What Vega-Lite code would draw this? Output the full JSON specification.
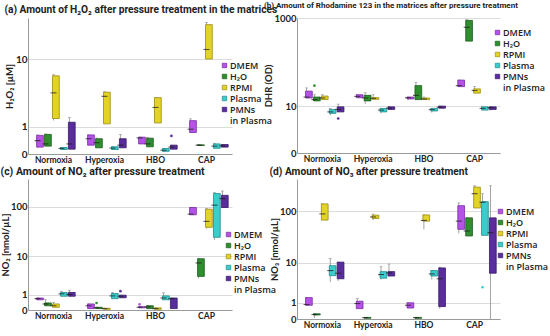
{
  "$schema": "https://vega.github.io/schema/vega-lite/v6.json",
  "padding": {"left": 0, "top": 2, "right": 0, "bottom": 2},
  "datasets": {
    "a": [
      {"cond":"Normoxia","matrix":"DMEM","lo":0.17,"q1":0.19,"med":0.40,"q3":0.60,"hi":0.62},
      {"cond":"Normoxia","matrix":"H₂O","lo":0.22,"q1":0.22,"med":0.29,"q3":0.64,"hi":0.66},
      {"cond":"Normoxia","matrix":"RPMI","lo":1.33,"q1":1.45,"med":3.68,"q3":6.2,"hi":6.4},
      {"cond":"Normoxia","matrix":"Plasma","lo":0.12,"q1":0.12,"med":0.15,"q3":0.18,"hi":0.18},
      {"cond":"Normoxia","matrix":"PMNs in Plasma","lo":0.13,"q1":0.13,"med":0.29,"q3":1.23,"hi":1.51},
      {"cond":"Hyperoxia","matrix":"DMEM","lo":0.25,"q1":0.25,"med":0.47,"q3":0.62,"hi":0.62},
      {"cond":"Hyperoxia","matrix":"H₂O","lo":0.17,"q1":0.17,"med":0.33,"q3":0.47,"hi":0.49},
      {"cond":"Hyperoxia","matrix":"RPMI","lo":1.14,"q1":1.14,"med":3.29,"q3":3.76,"hi":3.8},
      {"cond":"Hyperoxia","matrix":"Plasma","lo":0.12,"q1":0.12,"med":0.16,"q3":0.20,"hi":0.20},
      {"cond":"Hyperoxia","matrix":"PMNs in Plasma","lo":0.17,"q1":0.17,"med":0.25,"q3":0.47,"hi":0.64},
      {"cond":"HBO","matrix":"DMEM","lo":0.29,"q1":0.29,"med":0.50,"q3":0.53,"hi":0.53},
      {"cond":"HBO","matrix":"H₂O","lo":0.20,"q1":0.20,"med":0.29,"q3":0.49,"hi":0.52},
      {"cond":"HBO","matrix":"RPMI","lo":1.19,"q1":1.19,"med":2.24,"q3":3.15,"hi":3.15},
      {"cond":"HBO","matrix":"Plasma","lo":0.066,"q1":0.07,"med":0.10,"q3":0.15,"hi":0.15},
      {"cond":"HBO","matrix":"PMNs in Plasma","lo":0.13,"q1":0.13,"med":0.19,"q3":0.25,"hi":0.25},
      {"cond":"CAP","matrix":"DMEM","lo":0.72,"q1":0.72,"med":0.87,"q3":1.32,"hi":1.43},
      {"cond":"CAP","matrix":"H₂O","lo":0.24,"q1":0.24,"med":0.25,"q3":0.26,"hi":0.26},
      {"cond":"CAP","matrix":"RPMI","lo":10.0,"q1":10.0,"med":13.0,"q3":25.2,"hi":26.7},
      {"cond":"CAP","matrix":"Plasma","lo":0.155,"q1":0.155,"med":0.22,"q3":0.29,"hi":0.31},
      {"cond":"CAP","matrix":"PMNs in Plasma","lo":0.19,"q1":0.19,"med":0.23,"q3":0.27,"hi":0.27}
    ],
    "a_out": [
      {"cond":"HBO","matrix":"PMNs in Plasma","v":0.58}
    ],
    "b": [
      {"cond":"Normoxia","matrix":"DMEM","lo":15.7,"q1":15.7,"med":16.5,"q3":22.7,"hi":27.0},
      {"cond":"Normoxia","matrix":"H₂O","lo":13.4,"q1":13.4,"med":14.4,"q3":16.5,"hi":18.7},
      {"cond":"Normoxia","matrix":"RPMI","lo":14.4,"q1":14.4,"med":15.7,"q3":17.4,"hi":18.7},
      {"cond":"Normoxia","matrix":"Plasma","lo":5.9,"q1":6.6,"med":7.2,"q3":8.3,"hi":8.8},
      {"cond":"Normoxia","matrix":"PMNs in Plasma","lo":7.2,"q1":7.2,"med":8.3,"q3":9.6,"hi":11.2},
      {"cond":"Hyperoxia","matrix":"DMEM","lo":15.9,"q1":15.9,"med":17.1,"q3":18.7,"hi":18.7},
      {"cond":"Hyperoxia","matrix":"H₂O","lo":11.2,"q1":13.4,"med":15.7,"q3":18.1,"hi":20.8},
      {"cond":"Hyperoxia","matrix":"RPMI","lo":14.6,"q1":14.6,"med":15.4,"q3":16.0,"hi":18.7},
      {"cond":"Hyperoxia","matrix":"Plasma","lo":6.6,"q1":7.2,"med":8.0,"q3":8.8,"hi":8.8},
      {"cond":"Hyperoxia","matrix":"PMNs in Plasma","lo":8.3,"q1":8.3,"med":8.9,"q3":9.6,"hi":9.6},
      {"cond":"HBO","matrix":"DMEM","lo":13.9,"q1":14.9,"med":15.9,"q3":16.5,"hi":16.5},
      {"cond":"HBO","matrix":"H₂O","lo":13.9,"q1":14.4,"med":18.1,"q3":30.4,"hi":36.2},
      {"cond":"HBO","matrix":"RPMI","lo":14.4,"q1":14.4,"med":14.9,"q3":15.7,"hi":16.5},
      {"cond":"HBO","matrix":"Plasma","lo":6.9,"q1":7.6,"med":8.2,"q3":8.8,"hi":8.8},
      {"cond":"HBO","matrix":"PMNs in Plasma","lo":8.9,"q1":8.9,"med":9.4,"q3":10.0,"hi":10.0},
      {"cond":"CAP","matrix":"DMEM","lo":28.9,"q1":28.9,"med":30.4,"q3":40.7,"hi":40.7},
      {"cond":"CAP","matrix":"H₂O","lo":306,"q1":306,"med":621,"q3":883,"hi":916},
      {"cond":"CAP","matrix":"RPMI","lo":20.4,"q1":20.4,"med":23.5,"q3":25.6,"hi":28.9},
      {"cond":"CAP","matrix":"Plasma","lo":8.0,"q1":8.0,"med":8.8,"q3":9.6,"hi":9.6},
      {"cond":"CAP","matrix":"PMNs in Plasma","lo":7.8,"q1":8.3,"med":9.2,"q3":9.6,"hi":9.6}
    ],
    "b_out": [
      {"cond":"Normoxia","matrix":"H₂O","v":30.4},
      {"cond":"Normoxia","matrix":"PMNs in Plasma","v":4.85}
    ],
    "c": [
      {"cond":"Normoxia","matrix":"DMEM","lo":0.58,"q1":0.58,"med":0.66,"q3":0.71,"hi":0.71},
      {"cond":"Normoxia","matrix":"H₂O","lo":0.21,"q1":0.21,"med":0.31,"q3":0.37,"hi":0.60},
      {"cond":"Normoxia","matrix":"RPMI","lo":0.13,"q1":0.13,"med":0.21,"q3":0.31,"hi":0.41},
      {"cond":"Normoxia","matrix":"Plasma","lo":0.85,"q1":0.85,"med":1.06,"q3":1.19,"hi":1.32},
      {"cond":"Normoxia","matrix":"PMNs in Plasma","lo":0.85,"q1":0.85,"med":1.0,"q3":1.19,"hi":1.43},
      {"cond":"Hyperoxia","matrix":"DMEM","lo":0.065,"q1":0.065,"med":0.21,"q3":0.31,"hi":0.31},
      {"cond":"Hyperoxia","matrix":"H₂O","lo":0.065,"q1":0.065,"med":0.10,"q3":0.13,"hi":0.13},
      {"cond":"Hyperoxia","matrix":"RPMI","lo":0.03,"q1":0.03,"med":0.065,"q3":0.08,"hi":0.08},
      {"cond":"Hyperoxia","matrix":"Plasma","lo":0.66,"q1":0.66,"med":0.88,"q3":1.09,"hi":1.19},
      {"cond":"Hyperoxia","matrix":"PMNs in Plasma","lo":0.73,"q1":0.73,"med":0.85,"q3":0.94,"hi":0.94},
      {"cond":"HBO","matrix":"DMEM","lo":0.10,"q1":0.10,"med":0.13,"q3":0.16,"hi":0.16},
      {"cond":"HBO","matrix":"H₂O","lo":0.065,"q1":0.065,"med":0.15,"q3":0.21,"hi":0.21},
      {"cond":"HBO","matrix":"RPMI","lo":0.03,"q1":0.03,"med":0.065,"q3":0.10,"hi":0.10},
      {"cond":"HBO","matrix":"Plasma","lo":0.58,"q1":0.58,"med":0.71,"q3":0.88,"hi":1.16},
      {"cond":"HBO","matrix":"PMNs in Plasma","lo":0.065,"q1":0.065,"med":0.66,"q3":0.71,"hi":0.71},
      {"cond":"CAP","matrix":"DMEM","lo":69.8,"q1":69.8,"med":71.9,"q3":97,"hi":97},
      {"cond":"CAP","matrix":"H₂O","lo":3.1,"q1":3.5,"med":7.2,"q3":8.9,"hi":8.9},
      {"cond":"CAP","matrix":"RPMI","lo":37,"q1":39.4,"med":51.7,"q3":90,"hi":92},
      {"cond":"CAP","matrix":"Plasma","lo":22,"q1":24.9,"med":108,"q3":182,"hi":190},
      {"cond":"CAP","matrix":"PMNs in Plasma","lo":95,"q1":97,"med":145,"q3":168,"hi":204}
    ],
    "c_out": [
      {"cond":"Hyperoxia","matrix":"H₂O","v":0.37},
      {"cond":"Hyperoxia","matrix":"PMNs in Plasma","v":1.32},
      {"cond":"HBO","matrix":"DMEM","v":0.29}
    ],
    "d": [
      {"cond":"Normoxia","matrix":"DMEM","lo":0.80,"q1":0.80,"med":0.86,"q3":1.50,"hi":1.50},
      {"cond":"Normoxia","matrix":"H₂O","lo":0.045,"q1":0.19,"med":0.21,"q3":0.25,"hi":0.25},
      {"cond":"Normoxia","matrix":"RPMI","lo":68,"q1":68,"med":89,"q3":137,"hi":137},
      {"cond":"Normoxia","matrix":"Plasma","lo":3.9,"q1":5.4,"med":6.95,"q3":8.8,"hi":12.4},
      {"cond":"Normoxia","matrix":"PMNs in Plasma","lo":4.1,"q1":4.6,"med":6.1,"q3":10.4,"hi":10.4},
      {"cond":"Hyperoxia","matrix":"DMEM","lo":0.56,"q1":0.56,"med":0.94,"q3":1.14,"hi":1.40},
      {"cond":"Hyperoxia","matrix":"H₂O","lo":0.03,"q1":0.03,"med":0.06,"q3":0.07,"hi":0.07},
      {"cond":"Hyperoxia","matrix":"RPMI","lo":68,"q1":73,"med":78,"q3":84,"hi":88},
      {"cond":"Hyperoxia","matrix":"Plasma","lo":4.4,"q1":4.75,"med":5.7,"q3":6.6,"hi":8.4},
      {"cond":"Hyperoxia","matrix":"PMNs in Plasma","lo":5.3,"q1":5.3,"med":6.2,"q3":6.6,"hi":9.5},
      {"cond":"HBO","matrix":"DMEM","lo":0.60,"q1":0.60,"med":0.80,"q3":1.0,"hi":1.0},
      {"cond":"HBO","matrix":"H₂O","lo":0.03,"q1":0.03,"med":0.06,"q3":0.07,"hi":0.07},
      {"cond":"HBO","matrix":"RPMI","lo":45.5,"q1":65,"med":67,"q3":85,"hi":85},
      {"cond":"HBO","matrix":"Plasma","lo":4.4,"q1":5.3,"med":5.9,"q3":6.95,"hi":6.95},
      {"cond":"HBO","matrix":"PMNs in Plasma","lo":0.56,"q1":0.70,"med":4.6,"q3":7.9,"hi":8.2},
      {"cond":"CAP","matrix":"DMEM","lo":38,"q1":45.5,"med":65,"q3":127,"hi":143},
      {"cond":"CAP","matrix":"H₂O","lo":34,"q1":34,"med":42.3,"q3":75,"hi":75},
      {"cond":"CAP","matrix":"RPMI","lo":115,"q1":115,"med":213,"q3":282,"hi":299},
      {"cond":"CAP","matrix":"Plasma","lo":35,"q1":35,"med":147,"q3":151,"hi":213},
      {"cond":"CAP","matrix":"PMNs in Plasma","lo":0,"q1":6.1,"med":39.3,"q3":75,"hi":299}
    ],
    "d_out": [
      {"cond":"CAP","matrix":"Plasma","v":2.9}
    ]
  },
  "columns": 2,
  "bounds": "flush",
  "spacing": {"row": 25, "column": 65},
  "resolve": {
    "scale": {"color": "independent", "stroke": "independent", "y": "independent", "x": "independent", "xOffset": "independent"},
    "legend": {"color": "independent"},
    "axis": {"x": "independent", "y": "independent"}
  },
  "concat": [
    {
      "title": {"text": "(a)   Amount of H₂O₂ after pressure treatment in the matrices", "fontSize": 10.2},
      "width": 204, "height": 136,
      "data": {"name": "a"},
      "encoding": {
        "x": {"field": "cond", "type": "nominal", "sort": ["Normoxia","Hyperoxia","HBO","CAP"], "scale": {"paddingInner": 0.22, "paddingOuter": 0.11}, "title": null},
        "xOffset": {"field": "matrix", "type": "nominal", "sort": ["DMEM","H₂O","RPMI","Plasma","PMNs in Plasma"], "scale": {"paddingInner": 0, "paddingOuter": 0}}
      },
      "layer": [
        {"mark": {"type": "rule", "color": "#8a8a8a", "strokeWidth": 0.8},
         "encoding": {"y": {"field": "lo", "type": "quantitative", "scale": {"type": "symlog", "constant": 1, "domain": [0, 30], "nice": false}, "axis": {"values": [0, 1, 10]}, "title": "H₂O₂ [µM]"}, "y2": {"field": "hi"}}},
        {"mark": {"type": "tick", "color": "#8a8a8a", "size": 3, "thickness": 0.8},
         "encoding": {"y": {"field": "hi", "type": "quantitative", "title": "H₂O₂ [µM]"}}},
        {"mark": {"type": "bar", "width": {"band": 0.85}, "strokeWidth": 0.8},
         "encoding": {
           "y": {"field": "q1", "type": "quantitative", "title": "H₂O₂ [µM]"}, "y2": {"field": "q3"},
           "color": {"field": "matrix", "type": "nominal", "scale": {"domain": ["DMEM","H₂O","RPMI","Plasma","PMNs in Plasma"], "range": ["#b553e6","#2f8f2f","#e3d325","#3ccccc","#5a2d9c"]}, "legend": {"legendX": 192, "legendY": 43, "labelExpr": "datum.label == 'PMNs in Plasma' ? ['PMNs','in Plasma'] : datum.label"}},
           "stroke": {"field": "matrix", "type": "nominal", "scale": {"domain": ["DMEM","H₂O","RPMI","Plasma","PMNs in Plasma"], "range": ["#7b2aa6","#1b5c1b","#9c8c12","#1f8b8b","#38186a"]}, "legend": null}}},
        {"mark": {"type": "tick", "color": "#1a1a1a", "size": 6, "thickness": 1.1},
         "encoding": {"y": {"field": "med", "type": "quantitative", "title": "H₂O₂ [µM]"}}},
        {"data": {"name": "a_out"}, "mark": {"type": "circle", "size": 7, "opacity": 1},
         "encoding": {"y": {"field": "v", "type": "quantitative", "title": "H₂O₂ [µM]"}, "color": {"field": "matrix", "type": "nominal", "legend": null}}}
      ]
    },
    {
      "title": {"text": "(b) Amount of Rhodamine 123 in the matrices after pressure treatment", "fontSize": 8},
      "width": 203, "height": 135,
      "data": {"name": "b"},
      "encoding": {
        "x": {"field": "cond", "type": "nominal", "sort": ["Normoxia","Hyperoxia","HBO","CAP"], "scale": {"paddingInner": 0.22, "paddingOuter": 0.11}, "title": null},
        "xOffset": {"field": "matrix", "type": "nominal", "sort": ["DMEM","H₂O","RPMI","Plasma","PMNs in Plasma"], "scale": {"paddingInner": 0, "paddingOuter": 0}}
      },
      "layer": [
        {"mark": {"type": "rule", "color": "#8a8a8a", "strokeWidth": 0.8},
         "encoding": {"y": {"field": "lo", "type": "quantitative", "scale": {"type": "symlog", "constant": 1, "domain": [0, 1000], "nice": false}, "axis": {"values": [0, 1, 10, 100, 1000], "labelFontSize": 9.5, "titlePadding": 0}, "title": "DHR (OD)"}, "y2": {"field": "hi"}}},
        {"mark": {"type": "tick", "color": "#8a8a8a", "size": 3, "thickness": 0.8},
         "encoding": {"y": {"field": "hi", "type": "quantitative", "title": "DHR (OD)"}}},
        {"mark": {"type": "bar", "width": {"band": 0.85}, "strokeWidth": 0.8},
         "encoding": {
           "y": {"field": "q1", "type": "quantitative", "title": "DHR (OD)"}, "y2": {"field": "q3"},
           "color": {"field": "matrix", "type": "nominal", "scale": {"domain": ["DMEM","H₂O","RPMI","Plasma","PMNs in Plasma"], "range": ["#b553e6","#2f8f2f","#e3d325","#3ccccc","#5a2d9c"]}, "legend": {"legendX": 196, "legendY": 10, "labelExpr": "datum.label == 'PMNs in Plasma' ? ['PMNs','in Plasma'] : datum.label"}},
           "stroke": {"field": "matrix", "type": "nominal", "scale": {"domain": ["DMEM","H₂O","RPMI","Plasma","PMNs in Plasma"], "range": ["#7b2aa6","#1b5c1b","#9c8c12","#1f8b8b","#38186a"]}, "legend": null}}},
        {"mark": {"type": "tick", "color": "#1a1a1a", "size": 6, "thickness": 1.1},
         "encoding": {"y": {"field": "med", "type": "quantitative", "title": "DHR (OD)"}}},
        {"data": {"name": "b_out"}, "mark": {"type": "circle", "size": 7, "opacity": 1},
         "encoding": {"y": {"field": "v", "type": "quantitative", "title": "DHR (OD)"}, "color": {"field": "matrix", "type": "nominal", "legend": null}}}
      ]
    },
    {
      "title": {"text": "(c)         Amount of NO₂ after pressure treatment", "fontSize": 10.5, "offset": 2},
      "width": 204, "height": 131,
      "data": {"name": "c"},
      "encoding": {
        "x": {"field": "cond", "type": "nominal", "sort": ["Normoxia","Hyperoxia","HBO","CAP"], "scale": {"paddingInner": 0.22, "paddingOuter": 0.11}, "title": null},
        "xOffset": {"field": "matrix", "type": "nominal", "sort": ["DMEM","H₂O","RPMI","Plasma","PMNs in Plasma"], "scale": {"paddingInner": 0, "paddingOuter": 0}}
      },
      "layer": [
        {"mark": {"type": "rule", "color": "#8a8a8a", "strokeWidth": 0.8},
         "encoding": {"y": {"field": "lo", "type": "quantitative", "scale": {"type": "symlog", "constant": 1, "domain": [0, 350], "nice": false}, "axis": {"values": [0, 1, 10, 100], "labelFontSize": 9.5, "titlePadding": 0}, "title": "NO₂ [nmol/µL]"}, "y2": {"field": "hi"}}},
        {"mark": {"type": "tick", "color": "#8a8a8a", "size": 3, "thickness": 0.8},
         "encoding": {"y": {"field": "hi", "type": "quantitative", "title": "NO₂ [nmol/µL]"}}},
        {"mark": {"type": "bar", "width": {"band": 0.85}, "strokeWidth": 0.8},
         "encoding": {
           "y": {"field": "q1", "type": "quantitative", "title": "NO₂ [nmol/µL]"}, "y2": {"field": "q3"},
           "color": {"field": "matrix", "type": "nominal", "scale": {"domain": ["DMEM","H₂O","RPMI","Plasma","PMNs in Plasma"], "range": ["#b553e6","#2f8f2f","#e3d325","#3ccccc","#5a2d9c"]}, "legend": {"legendX": 196, "legendY": 51, "labelExpr": "datum.label == 'PMNs in Plasma' ? ['PMNs','in Plasma'] : datum.label"}},
           "stroke": {"field": "matrix", "type": "nominal", "scale": {"domain": ["DMEM","H₂O","RPMI","Plasma","PMNs in Plasma"], "range": ["#7b2aa6","#1b5c1b","#9c8c12","#1f8b8b","#38186a"]}, "legend": null}}},
        {"mark": {"type": "tick", "color": "#1a1a1a", "size": 6, "thickness": 1.1},
         "encoding": {"y": {"field": "med", "type": "quantitative", "title": "NO₂ [nmol/µL]"}}},
        {"data": {"name": "c_out"}, "mark": {"type": "circle", "size": 7, "opacity": 1},
         "encoding": {"y": {"field": "v", "type": "quantitative", "title": "NO₂ [nmol/µL]"}, "color": {"field": "matrix", "type": "nominal", "legend": null}}}
      ]
    },
    {
      "title": {"text": "(d)       Amount of NO₃ after pressure treatment", "fontSize": 10.2, "offset": 2},
      "width": 203, "height": 140,
      "data": {"name": "d"},
      "encoding": {
        "x": {"field": "cond", "type": "nominal", "sort": ["Normoxia","Hyperoxia","HBO","CAP"], "scale": {"paddingInner": 0.22, "paddingOuter": 0.11}, "title": null},
        "xOffset": {"field": "matrix", "type": "nominal", "sort": ["DMEM","H₂O","RPMI","Plasma","PMNs in Plasma"], "scale": {"paddingInner": 0, "paddingOuter": 0}}
      },
      "layer": [
        {"mark": {"type": "rule", "color": "#8a8a8a", "strokeWidth": 0.8},
         "encoding": {"y": {"field": "lo", "type": "quantitative", "scale": {"type": "symlog", "constant": 1, "domain": [0, 400], "nice": false}, "axis": {"values": [0, 1, 10, 100], "labelFontSize": 9.5, "titlePadding": 0}, "title": "NO₃ [nmol/µL]"}, "y2": {"field": "hi"}}},
        {"mark": {"type": "tick", "color": "#8a8a8a", "size": 3, "thickness": 0.8},
         "encoding": {"y": {"field": "hi", "type": "quantitative", "title": "NO₃ [nmol/µL]"}}},
        {"mark": {"type": "bar", "width": {"band": 0.85}, "strokeWidth": 0.8},
         "encoding": {
           "y": {"field": "q1", "type": "quantitative", "title": "NO₃ [nmol/µL]"}, "y2": {"field": "q3"},
           "color": {"field": "matrix", "type": "nominal", "scale": {"domain": ["DMEM","H₂O","RPMI","Plasma","PMNs in Plasma"], "range": ["#b553e6","#2f8f2f","#e3d325","#3ccccc","#5a2d9c"]}, "legend": {"legendX": 199, "legendY": 28, "labelExpr": "datum.label == 'PMNs in Plasma' ? ['PMNs','in Plasma'] : datum.label"}},
           "stroke": {"field": "matrix", "type": "nominal", "scale": {"domain": ["DMEM","H₂O","RPMI","Plasma","PMNs in Plasma"], "range": ["#7b2aa6","#1b5c1b","#9c8c12","#1f8b8b","#38186a"]}, "legend": null}}},
        {"mark": {"type": "tick", "color": "#1a1a1a", "size": 6, "thickness": 1.1},
         "encoding": {"y": {"field": "med", "type": "quantitative", "title": "NO₃ [nmol/µL]"}}},
        {"data": {"name": "d_out"}, "mark": {"type": "circle", "size": 7, "opacity": 1},
         "encoding": {"y": {"field": "v", "type": "quantitative", "title": "NO₃ [nmol/µL]"}, "color": {"field": "matrix", "type": "nominal", "legend": null}}}
      ]
    }
  ],
  "config": {
    "font": "Lato",
    "view": {"stroke": null},
    "axis": {"grid": false, "domainColor": "#9a9a9a", "ticks": false, "labelFontWeight": "bold", "labelColor": "#222", "titleFontWeight": "bold", "titleColor": "#222"},
    "axisY": {"grid": true, "gridColor": "#dcdcdc", "labelFontSize": 10, "titleFontSize": 9.5, "labelPadding": 1, "titlePadding": 1, "format": "d", "labelOverlap": false},
    "axisX": {"labelAngle": 0, "labelFontSize": 8.5, "labelPadding": 1},
    "legend": {"orient": "none", "symbolType": "square", "symbolSize": 20, "labelFont": "Open Sans", "labelFontSize": 9, "labelFontWeight": 600, "rowPadding": 1, "title": null, "padding": 0, "labelOffset": 1, "symbolStrokeWidth": 0.7, "labelColor": "#222"},
    "title": {"anchor": "start", "frame": "bounds", "font": "Roboto", "fontWeight": "bold", "color": "#222", "offset": 3}
  }
}
